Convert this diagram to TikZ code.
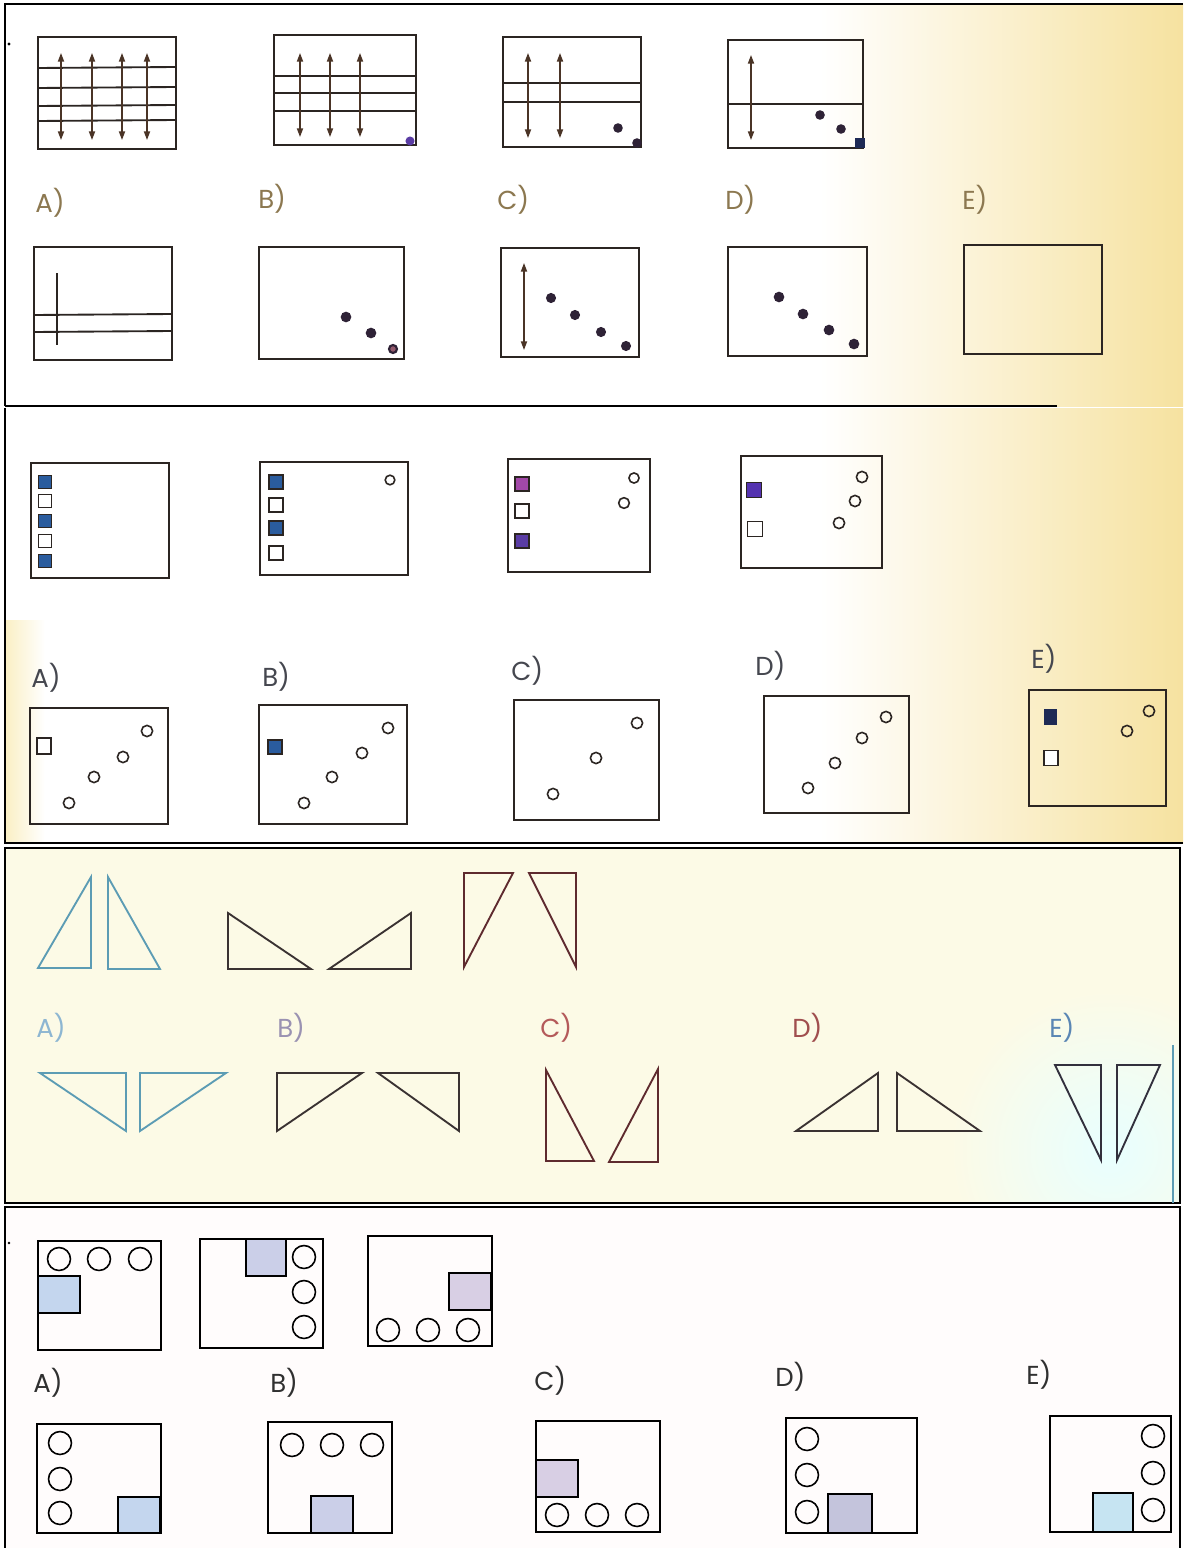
\documentclass[tikz,border=0pt]{standalone}
\usepackage{fontspec}
\setmainfont{Poppins}
\usetikzlibrary{arrows.meta}
\definecolor{ink}{HTML}{2B2522}
\definecolor{inkb}{HTML}{4A3426}
\definecolor{ybg}{HTML}{F6E2A0}
\definecolor{ybg2}{HTML}{FAEFC4}
\definecolor{cream}{HTML}{FCFAE6}
\definecolor{labA}{HTML}{8C7850}
\definecolor{labB}{HTML}{45474F}
\definecolor{labD}{HTML}{303030}
\definecolor{dotc}{HTML}{2E2236}
\definecolor{navy}{HTML}{1E2A55}
\definecolor{bluesq}{HTML}{2A5C9E}
\definecolor{magsq}{HTML}{A248A8}
\definecolor{purpsq}{HTML}{5A3CA4}
\definecolor{vsq}{HTML}{5432B0}
\definecolor{teal}{HTML}{5C9CB4}
\definecolor{tdark}{HTML}{3A3232}
\definecolor{tred}{HTML}{5E2A2E}
\definecolor{lA}{HTML}{8DB6D2}
\definecolor{lB}{HTML}{9A92B2}
\definecolor{lC}{HTML}{B45A5A}
\definecolor{lD}{HTML}{A04E4E}
\definecolor{lE}{HTML}{5A86B4}
\definecolor{fa}{HTML}{C4D6EE}
\definecolor{fb}{HTML}{CBCFE8}
\definecolor{fc}{HTML}{D8CFE4}
\definecolor{fd}{HTML}{C4C4DC}
\definecolor{fe}{HTML}{C6E4F2}
\begin{document}
\begin{tikzpicture}[x=0.75pt,y=-0.75pt,
  pbox/.style={draw=ink,line width=1.7pt},
  gline/.style={draw=ink,line width=1.4pt},
  darr/.style={draw=inkb,line width=1.1pt,{Triangle[length=6.5pt,width=4.6pt]}-{Triangle[length=6.5pt,width=4.6pt]}},
  pdot/.style={fill=dotc},
  ring/.style={draw=ink,line width=1.2pt},
  lab/.style={anchor=west,inner sep=0pt,font=\fontsize{19.5}{22}\selectfont},
  frame/.style={draw=black,line width=1.5pt},
  tri/.style={line width=1.4pt,line join=miter},
  qbox/.style={draw=black,line width=1.5pt},
  qcirc/.style={draw=black,line width=1.2pt}]
\useasboundingbox (0,0) rectangle (1183,1548);
% ---------- backgrounds ----------
\fill[white] (0,0) rectangle (1183,1548);
\shade[left color=white,middle color=white!70!ybg2,right color=ybg] (820,4) rectangle (1183,406);
\shade[left color=white,middle color=white!75!ybg2,right color=ybg] (820,408) rectangle (1183,843);
\shade[left color=ybg2,right color=white] (5,620) rectangle (45,843);
\fill[cream] (5,848) rectangle (1180,1203);
\begin{scope}
  \clip (5,848) rectangle (1180,1203);
  \shade[inner color=cyan!9,outer color=cream] (1110,1150) circle[radius=120pt];
\end{scope}
\fill[white!96!pink] (5,1207) rectangle (1180,1548);
% ---------- frames ----------
\draw[frame] (5,406) -- (5,4) -- (1183,4);
\draw[frame,line width=2pt] (5,406) -- (1057,406);
\draw[frame] (5,408) -- (5,843) -- (1183,843);
\draw[frame,line width=1.2pt] (5,848) rectangle (1180,1203);
\draw[frame,line width=1.2pt] (5,1548) -- (5,1207) -- (1180,1207) -- (1180,1548);
\fill[black] (9,44) circle[radius=1.3pt];
\fill[black] (9,1243) circle[radius=1.1pt];
% =============== PUZZLE 1 ===============
% box 1
\draw[pbox] (38,37) rectangle (176,149);
\foreach \yy in {68,88,106,121} \draw[gline] (38,\yy) -- (176,\yy-1);
\foreach \xx in {61,92,122,147} \draw[darr] (\xx,53) -- (\xx,140);
% box 2
\draw[pbox] (274,35) rectangle (416,145);
\foreach \yy in {76,93,111} \draw[gline] (274,\yy) -- (416,\yy);
\foreach \xx in {300,330,360} \draw[darr] (\xx,53) -- (\xx,137);
\fill[purpsq] (410,141) circle[radius=3.4pt];
% box 3
\draw[pbox] (503,37) rectangle (641,147);
\foreach \yy in {83,102} \draw[gline] (503,\yy) -- (641,\yy);
\foreach \xx in {528,560} \draw[darr] (\xx,53) -- (\xx,138);
\fill[pdot] (618,128) circle[radius=3.6pt];
\fill[pdot] (637,143) circle[radius=3.6pt];
% box 4
\draw[pbox] (728,40) rectangle (863,148);
\draw[gline] (728,104) -- (863,104);
\draw[darr] (751,55) -- (751,140);
\fill[pdot] (820,115) circle[radius=3.6pt];
\fill[pdot] (841,129) circle[radius=3.6pt];
\fill[navy] (855,138) rectangle (865,148);
% labels
\node[lab,text=labA] (p1a) at (35,203) {A)};
\node[lab,text=labA] (p1b) at (258,199) {B)};
\node[lab,text=labA] (p1c) at (497,200) {C)};
\node[lab,text=labA] (p1d) at (725,200) {D)};
\node[lab,text=labA] (p1e) at (962,200) {E)};
% answers
\draw[pbox] (34,247) rectangle (172,360);
\draw[gline] (57,273) -- (57,345);
\draw[gline] (34,315) -- (172,314);
\draw[gline] (34,332) -- (172,331);
\draw[pbox] (259,247) rectangle (404,359);
\fill[pdot] (346,317) circle[radius=4pt];
\fill[pdot] (371,333) circle[radius=4pt];
\filldraw[fill=gray!70!purple,draw=dotc,line width=1.6pt] (393,349) circle[radius=3pt];
\draw[pbox] (501,248) rectangle (639,357);
\draw[darr] (524,263) -- (524,350);
\foreach \p in {(551,298),(575,315),(601,332),(626,346)} \fill[pdot] \p circle[radius=3.8pt];
\draw[pbox] (728,247) rectangle (867,356);
\foreach \p in {(779,297),(803,314),(829,330),(854,344)} \fill[pdot] \p circle[radius=4pt];
\draw[pbox] (964,245) rectangle (1102,354);
% =============== PUZZLE 2 ===============
\draw[pbox] (31,463) rectangle (169,578);
\foreach \yy/\cc in {482/bluesq,501/white,521/bluesq,541/white,561/bluesq}
  \filldraw[fill=\cc,draw=ink,line width=0.9pt] (45,\yy) ++(-6.5,-6.5) rectangle ++(13,13);
\draw[pbox] (260,462) rectangle (408,575);
\foreach \yy/\cc in {482/bluesq,505/white,528/bluesq,553/white}
  \filldraw[fill=\cc,draw=ink,line width=0.9pt] (276,\yy) ++(-7,-7) rectangle ++(14,14);
\draw[ring] (390,480) circle[radius=3.6pt];
\draw[pbox] (508,459) rectangle (650,572);
\foreach \yy/\cc in {484/magsq,511/white,541/purpsq}
  \filldraw[fill=\cc,draw=ink,line width=0.9pt] (522,\yy) ++(-7,-7) rectangle ++(14,14);
\draw[ring] (634,478) circle[radius=3.8pt];
\draw[ring] (624,503) circle[radius=4pt];
\draw[pbox] (741,456) rectangle (882,568);
\filldraw[fill=vsq,draw=ink,line width=0.9pt] (754,490) ++(-7.5,-7.5) rectangle ++(15,15);
\filldraw[fill=white,draw=ink,line width=0.9pt] (755,529) ++(-7.5,-7.5) rectangle ++(15,15);
\foreach \p in {(862,477),(855,501),(839,523)} \draw[ring] \p circle[radius=4.2pt];
% labels
\node[lab,text=labB] (p2a) at (31,678) {A)};
\node[lab,text=labB] (p2b) at (262,677) {B)};
\node[lab,text=labB] (p2c) at (511,671) {C)};
\node[lab,text=labB] (p2d) at (755,666) {D)};
\node[lab,text=labB] (p2e) at (1031,659) {E)};
% answers
\draw[pbox] (30,708) rectangle (168,824);
\filldraw[fill=white,draw=ink,line width=0.9pt] (44,746) ++(-7,-8) rectangle ++(14,16);
\foreach \p in {(147,731),(123,757),(94,777),(69,803)} \draw[ring] \p circle[radius=4.2pt];
\draw[pbox] (259,705) rectangle (407,824);
\filldraw[fill=bluesq,draw=ink,line width=0.9pt] (275,747) ++(-7,-7) rectangle ++(14,14);
\foreach \p in {(388,728),(362,753),(332,777),(304,803)} \draw[ring] \p circle[radius=4.2pt];
\draw[pbox] (514,700) rectangle (659,820);
\foreach \p in {(637,723),(596,758),(553,794)} \draw[ring] \p circle[radius=4.2pt];
\draw[pbox] (764,696) rectangle (909,813);
\foreach \p in {(886,717),(862,738),(835,763),(808,788)} \draw[ring] \p circle[radius=4.2pt];
\draw[pbox] (1029,690) rectangle (1166,806);
\fill[navy] (1050,717) ++(-6.5,-8) rectangle ++(13,16);
\filldraw[fill=white,draw=ink,line width=0.9pt] (1051,758) ++(-7,-7.5) rectangle ++(14,15);
\foreach \p in {(1149,711),(1127,731)} \draw[ring] \p circle[radius=4.2pt];
% =============== PUZZLE 3 ===============
\draw[tri,draw=teal] (91,877) -- (91,968) -- (38,968) -- cycle;
\draw[tri,draw=teal] (108,877) -- (108,969) -- (160,969) -- cycle;
\draw[tri,draw=tdark] (228,913) -- (228,969) -- (311,969) -- cycle;
\draw[tri,draw=tdark] (411,913) -- (411,969) -- (329,969) -- cycle;
\draw[tri,draw=tred] (464,873) -- (513,873) -- (464,967) -- cycle;
\draw[tri,draw=tred] (529,873) -- (576,873) -- (576,967) -- cycle;
\node[lab,text=lA] (p3a) at (36,1028) {A)};
\node[lab,text=lB] (p3b) at (277,1028) {B)};
\node[lab,text=lC] (p3c) at (540,1028) {C)};
\node[lab,text=lD] (p3d) at (792,1028) {D)};
\node[lab,text=lE] (p3e) at (1049,1028) {E)};
\draw[tri,draw=teal] (40,1073) -- (126,1073) -- (126,1131) -- cycle;
\draw[tri,draw=teal] (140,1073) -- (226,1073) -- (140,1131) -- cycle;
\draw[tri,draw=tdark] (277,1073) -- (362,1073) -- (277,1131) -- cycle;
\draw[tri,draw=tdark] (378,1073) -- (459,1073) -- (459,1131) -- cycle;
\draw[tri,draw=tred] (546,1070) -- (546,1161) -- (594,1161) -- cycle;
\draw[tri,draw=tred] (658,1069) -- (658,1162) -- (609,1162) -- cycle;
\draw[tri,draw=tdark] (878,1073) -- (878,1131) -- (796,1131) -- cycle;
\draw[tri,draw=tdark] (897,1073) -- (897,1131) -- (980,1131) -- cycle;
\draw[tri,draw=tdark!70!navy] (1055,1065) -- (1101,1065) -- (1101,1160) -- cycle;
\draw[tri,draw=tdark!70!navy] (1117,1065) -- (1160,1065) -- (1117,1160) -- cycle;
\draw[teal,line width=1pt] (1173,1045) -- (1173,1203);
% =============== PUZZLE 4 ===============
\draw[qbox] (38,1241) rectangle (161,1350);
\filldraw[fill=fa,draw=black,line width=1.2pt] (38,1276) rectangle (80,1313);
\foreach \xx in {59,99,140} \draw[qcirc] (\xx,1259) circle[radius=8.6pt];
\draw[qbox] (200,1239) rectangle (323,1348);
\filldraw[fill=fb,draw=black,line width=1.2pt] (246,1239) rectangle (286,1276);
\foreach \yy in {1257,1292,1327} \draw[qcirc] (304,\yy) circle[radius=8.6pt];
\draw[qbox] (368,1236) rectangle (492,1346);
\filldraw[fill=fc,draw=black,line width=1.2pt] (449,1273) rectangle (491,1310);
\foreach \xx in {388,428,468} \draw[qcirc] (\xx,1330) circle[radius=8.6pt];
\node[lab,text=labD] (p4a) at (33,1383) {A)};
\node[lab,text=labD] (p4b) at (270,1383) {B)};
\node[lab,text=labD] (p4c) at (534,1381) {C)};
\node[lab,text=labD] (p4d) at (775,1377) {D)};
\node[lab,text=labD] (p4e) at (1026,1375) {E)};
\draw[qbox] (37,1424) rectangle (161,1533);
\filldraw[fill=fa,draw=black,line width=1.2pt] (118,1497) rectangle (160,1533);
\foreach \yy in {1443,1479,1513} \draw[qcirc] (60,\yy) circle[radius=8.6pt];
\draw[qbox] (268,1422) rectangle (392,1533);
\filldraw[fill=fb,draw=black,line width=1.2pt] (311,1496) rectangle (353,1533);
\foreach \xx in {292,332,372} \draw[qcirc] (\xx,1445) circle[radius=8.6pt];
\draw[qbox] (536,1421) rectangle (660,1532);
\filldraw[fill=fc,draw=black,line width=1.2pt] (536,1460) rectangle (578,1497);
\foreach \xx in {557,597,637} \draw[qcirc] (\xx,1515) circle[radius=8.6pt];
\draw[qbox] (786,1418) rectangle (917,1533);
\filldraw[fill=fd,draw=black,line width=1.2pt] (828,1494) rectangle (872,1533);
\foreach \yy in {1439,1475,1512} \draw[qcirc] (807,\yy) circle[radius=8.6pt];
\draw[qbox] (1050,1416) rectangle (1171,1532);
\filldraw[fill=fe,draw=black,line width=1.2pt] (1093,1493) rectangle (1133,1532);
\foreach \yy in {1436,1473,1510} \draw[qcirc] (1153,\yy) circle[radius=8.6pt];
\end{tikzpicture}
\end{document}
